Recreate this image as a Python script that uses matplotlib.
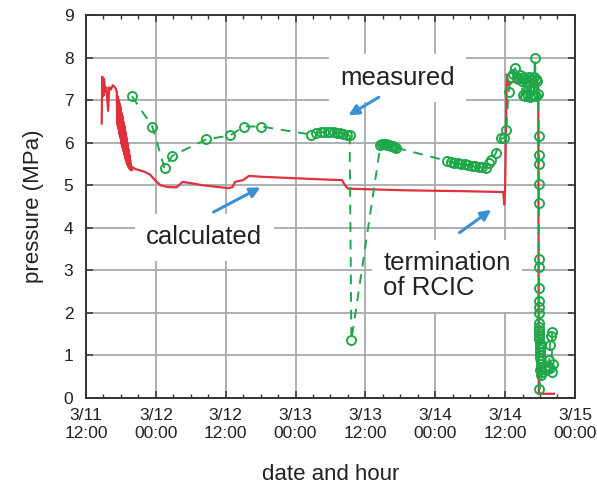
import numpy as np
import matplotlib
matplotlib.use('Agg')
import matplotlib.pyplot as plt
from matplotlib.ticker import MultipleLocator

plt.rcParams['font.family'] = ['Liberation Sans', 'DejaVu Sans']

# hours since 3/11 12:00
calc_h = [2.7, 2.8, 3.0, 3.1, 3.3, 3.5, 3.8, 4.0, 4.3, 4.6, 5.0, 5.3,
          5.35, 5.4, 5.45, 5.5, 5.55, 5.6, 5.65, 5.7, 5.75, 5.8, 5.85, 5.9,
          5.95, 6.0, 6.05, 6.1, 6.15, 6.2, 6.25, 6.3, 6.35, 6.4, 6.45, 6.5,
          6.55, 6.6, 6.65, 6.7, 6.75, 6.8, 6.85, 6.9, 6.95, 7.0, 7.05, 7.1,
          7.15, 7.2, 7.25, 7.3, 7.35, 7.4, 7.45, 7.5, 7.55, 7.6, 7.65, 7.7,
          7.8, 7.9, 8.0, 8.5, 10, 11, 12, 12.8, 14, 15.5,
          16.0, 16.6, 18, 20, 22, 24.5, 25.2, 25.6, 27, 28, 30, 35, 40,
          44.0, 44.5, 45, 50, 55, 60, 65, 71.7, 71.85, 72.0, 72.3, 72.6,
          73.5, 75, 77, 77.7, 77.8, 78.2, 80.4]
calc_p = [6.45, 7.55, 7.1, 7.5, 7.2, 7.3, 6.75, 7.3, 7.25, 7.35, 7.3, 7.2,
          6.5, 7.1, 6.4, 7.05, 6.35, 7.0, 6.3, 6.95, 6.2, 6.9, 6.15, 6.85,
          6.1, 6.8, 6.0, 6.7, 5.95, 6.65, 5.9, 6.6, 5.85, 6.5, 5.8, 6.45,
          5.75, 6.4, 5.7, 6.3, 5.65, 6.25, 5.6, 6.15, 5.55, 6.1, 5.5, 6.0,
          5.48, 5.95, 5.45, 5.85, 5.42, 5.8, 5.4, 5.7, 5.38, 5.6, 5.36, 5.5,
          5.4, 5.35, 5.42, 5.38, 5.32, 5.25, 5.1, 5.0, 4.96, 4.95,
          5.0, 5.08, 5.05, 5.0, 4.97, 4.93, 4.96, 5.08, 5.12, 5.22, 5.2, 5.17, 5.14,
          5.12, 5.0, 4.92, 4.9, 4.88, 4.87, 4.86, 4.84, 4.55, 4.9, 7.6, 7.35,
          7.45, 7.4, 7.45, 7.4, 0.12, 0.1, 0.1]

meas_h = [7.9, 11.4, 13.5, 14.8, 20.7, 24.8, 27.1, 30.1,
          38.7, 39.6, 40.3, 40.9, 41.5, 42.0, 42.6, 43.1, 43.7, 44.2, 44.8, 45.3,
          45.6,
          50.6, 50.9, 51.2, 51.5, 51.8, 52.1, 52.4, 52.7, 53.0, 53.3,
          62.1, 62.7, 63.3, 63.9, 64.5, 65.1, 65.7, 66.3, 66.9, 67.5, 68.1, 68.7,
          69.3, 69.6, 70.4, 71.3, 71.8, 72.2,
          72.6, 73.0, 73.4, 73.7, 74.0, 74.3, 74.6, 74.9, 75.0, 75.2, 75.4, 75.5,
          75.8, 75.8, 76.1, 76.2, 76.4, 76.6, 76.7, 77.0, 77.0, 77.1, 77.3, 77.4,
          77.5, 77.7,
          77.8, 77.8, 77.8, 77.8, 77.8, 77.8, 77.8, 77.8, 77.8, 77.8, 77.8,
          77.9, 77.9, 77.9, 77.9, 77.9, 77.9, 78.0, 78.0, 78.0, 78.0, 78.0,
          78.0, 78.1, 78.1, 78.1, 78.0, 78.1, 77.9,
          78.4, 78.8, 79.1, 79.4, 79.6, 79.7, 79.9, 80.1, 80.0, 80.2, 79.8]
meas_p = [7.09, 6.38, 5.40, 5.69, 6.08, 6.17, 6.38, 6.38,
          6.19, 6.23, 6.25, 6.25, 6.25, 6.24, 6.24, 6.23, 6.22, 6.21, 6.19, 6.19,
          1.36,
          5.95, 5.98, 5.97, 5.96, 5.95, 5.94, 5.93, 5.92, 5.90, 5.88,
          5.57, 5.55, 5.53, 5.52, 5.50, 5.49, 5.48, 5.46, 5.45, 5.43, 5.42, 5.41,
          5.52, 5.59, 5.75, 6.10, 6.10, 6.29,
          7.18, 7.55, 7.62, 7.75, 7.55, 7.50, 7.58, 7.45, 7.12, 7.55, 7.10, 7.50,
          7.45, 7.15, 7.55, 7.08, 7.50, 7.10, 7.48, 7.55, 7.12, 7.98, 7.50, 7.10,
          7.45, 7.15,
          6.15, 5.70, 5.49, 5.02, 4.58, 3.26, 3.07, 2.58, 2.28, 2.14, 1.99,
          1.76, 1.68, 1.60, 1.52, 1.45, 1.38, 1.30, 1.22, 1.15, 1.08, 1.00,
          0.94, 0.88, 0.80, 0.72, 0.65, 0.55, 0.21,
          0.60, 0.70, 0.65, 0.75, 0.90, 1.24, 1.45, 1.55, 0.62, 0.80, 0.70]

tick_labels = ['3/11\n12:00', '3/12\n00:00', '3/12\n12:00', '3/13\n00:00',
               '3/13\n12:00', '3/14\n00:00', '3/14\n12:00', '3/15\n00:00']

red = '#e0303c'
green = '#1fa84a'
blue = '#3b8fd2'

fig = plt.figure(figsize=(5.97, 4.92), dpi=100)
ax = fig.add_axes([0.144, 0.191, 0.819, 0.7785])

ax.plot(calc_h, calc_p, color=red, lw=1.6, zorder=3)
ax.plot(meas_h, meas_p, color=green, lw=1.4, ls=(0, (5, 4)), marker='o',
        ms=6.5, mfc='none', mec=green, mew=1.4, zorder=4)

ax.set_xlim(0, 84)
ax.set_ylim(0, 9)
ax.set_xticks(np.arange(0, 85, 12))
ax.set_xticklabels(tick_labels, linespacing=1.3)
ax.xaxis.set_minor_locator(MultipleLocator(3))
ax.yaxis.set_major_locator(MultipleLocator(1))

ax.grid(True, which='major', color='#a7aaae', lw=1.3, zorder=0)
ax.tick_params(which='both', direction='in', top=True, right=True,
               colors='#333333', labelcolor='#222222', labelsize=12.5)
ax.tick_params(which='major', length=5, width=1.1)
ax.tick_params(which='minor', length=3, width=1.0)
ax.tick_params(axis='x', pad=7)
ax.tick_params(axis='y', pad=9)
for s in ax.spines.values():
    s.set_color('#333333')
    s.set_linewidth(1.4)

ax.set_xlabel('date and hour', fontsize=16, color='#222222', labelpad=16)
ax.set_ylabel('pressure (MPa)', fontsize=16, color='#222222', labelpad=14)

box = dict(boxstyle='square,pad=0.45', fc='white', ec='none')
ax.text(53.5, 7.52, 'measured', fontsize=18.5, ha='center', va='center',
        color='#222222', bbox=box, zorder=5)
ax.text(20.3, 3.78, 'calculated', fontsize=18.5, ha='center', va='center',
        color='#222222', bbox=box, zorder=5)
ax.text(51.1, 2.87, 'termination\nof RCIC', fontsize=18.5, ha='left', va='center',
        color='#222222', bbox=box, zorder=5, linespacing=1.05)

arrow = dict(arrowstyle='-|>,head_length=0.6,head_width=0.3', color=blue, lw=2.2)
ax.annotate('', xy=(44.7, 6.61), xytext=(50.7, 7.10), arrowprops=arrow, zorder=6)
ax.annotate('', xy=(30.4, 4.98), xytext=(21.5, 4.34), arrowprops=arrow, zorder=6)
ax.annotate('', xy=(70.0, 4.46), xytext=(63.8, 3.85), arrowprops=arrow, zorder=6)

fig.savefig('out.png', dpi=100)
